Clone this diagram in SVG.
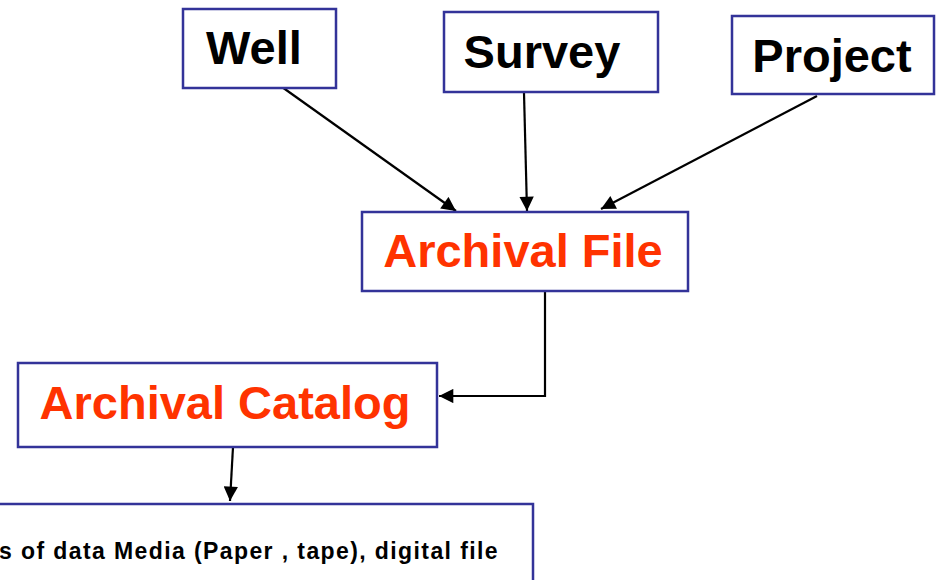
<svg xmlns="http://www.w3.org/2000/svg" width="936" height="580" viewBox="0 0 936 580">
  <style>
    .box { fill: #ffffff; stroke: #333399; stroke-width: 2.5; }
    .lbl { font-family: "Liberation Sans", Arial, sans-serif; font-weight: bold; font-size: 47px; text-anchor: middle; }
    .black { fill: #000000; }
    .red { fill: #ff3300; }
    .note { font-family: "Liberation Sans", Arial, sans-serif; font-weight: bold; font-size: 23px; fill: #000000; letter-spacing: 1.4px; text-anchor: end; }
    .conn { fill: none; stroke: #000000; stroke-width: 2.2; }
  </style>
  <defs>
    <marker id="arrow" viewBox="0 0 10 10" refX="10" refY="5" markerWidth="7" markerHeight="6.5" markerUnits="strokeWidth" orient="auto">
      <path d="M0,0 L10,5 L0,10 z" fill="#000000"/>
    </marker>
  </defs>

  <rect width="936" height="580" fill="#ffffff"/>

  <g id="connectors">
    <line class="conn" x1="282" y1="87" x2="456" y2="211" marker-end="url(#arrow)"/>
    <line class="conn" x1="524" y1="93" x2="527" y2="211" marker-end="url(#arrow)"/>
    <line class="conn" x1="817" y1="96" x2="601" y2="209" marker-end="url(#arrow)"/>
    <polyline class="conn" points="545,291 545,396 439,396" marker-end="url(#arrow)"/>
    <line class="conn" x1="233" y1="447" x2="230" y2="501" marker-end="url(#arrow)"/>
  </g>

  <g id="well">
    <rect class="box" x="183" y="9" width="153" height="79"/>
    <text class="lbl black" x="254" y="64">Well</text>
  </g>

  <g id="survey">
    <rect class="box" x="444" y="12" width="214" height="80"/>
    <text class="lbl black" x="542" y="68">Survey</text>
  </g>

  <g id="project">
    <rect class="box" x="732" y="16" width="202" height="78"/>
    <text class="lbl black" x="832" y="72">Project</text>
  </g>

  <g id="archival-file">
    <rect class="box" x="362" y="212" width="326" height="79"/>
    <text class="lbl red" x="523" y="267">Archival File</text>
  </g>

  <g id="archival-catalog">
    <rect class="box" x="18" y="363" width="419" height="84"/>
    <text class="lbl red" x="225" y="419">Archival Catalog</text>
  </g>

  <g id="media">
    <rect class="box" x="-10" y="504" width="543" height="90"/>
    <text class="note" x="499" y="559">s of data Media (Paper , tape), digital file</text>
  </g>
</svg>
